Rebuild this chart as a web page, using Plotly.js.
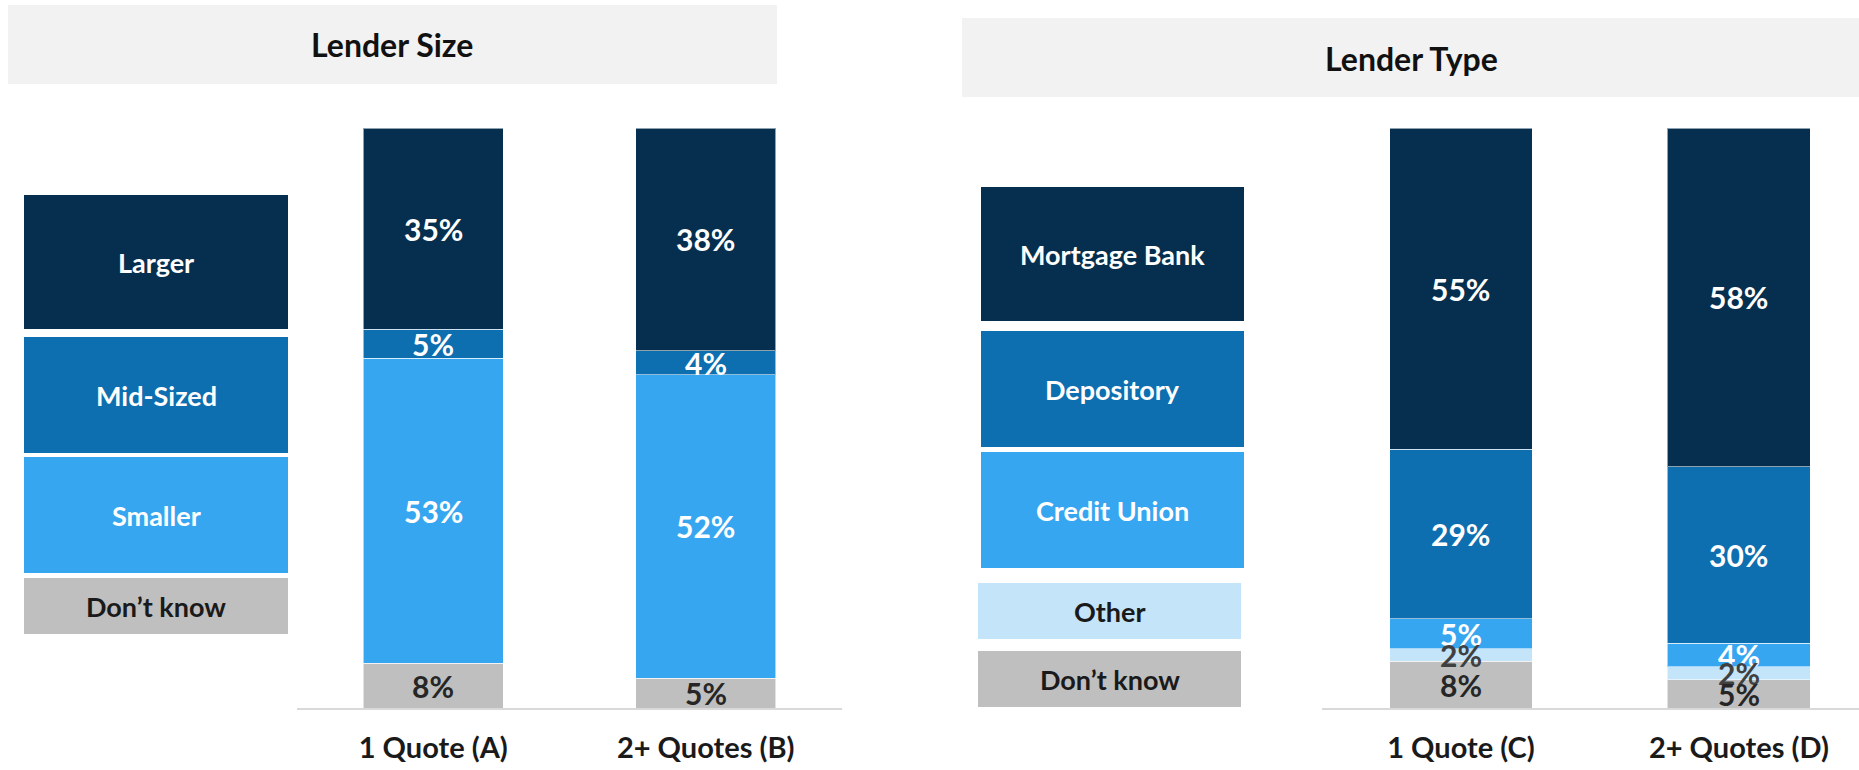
<!DOCTYPE html>
<html><head><meta charset="utf-8">
<script src="https://cdn.plot.ly/plotly-3.0.1.min.js"></script>
<style>html,body{margin:0;padding:0;background:#fff;} #chart{width:1859px;height:770px;}</style>
</head><body><div id="chart"></div>
<script>
// ---- Data ----
const sizeGroups = ['1 Quote (A)', '2+ Quotes (B)'];
const sizeCategories = ['Larger', 'Mid-Sized', 'Smaller', 'Don\u2019t know'];
const sizeLarger = [34.7, 38.4];
const sizeMid = [5.0, 4.1];
const sizeSmaller = [52.6, 52.4];
const sizeDontKnow = [7.7, 5.1];

const typeGroups = ['1 Quote (C)', '2+ Quotes (D)'];
const typeCategories = ['Mortgage Bank', 'Depository', 'Credit Union', 'Other', 'Don\u2019t know'];
const typeMortgage = [55.4, 58.4];
const typeDepository = [29.2, 30.4];
const typeCreditUnion = [5.2, 4.1];
const typeOther = [2.1, 2.2];
const typeDontKnow = [8.1, 4.9];

const panelTitles = ['Lender Size', 'Lender Type'];

// ---- Styles ----
const W = 1859, H = 770;
const FONT = 'Lato, "Source Sans Pro", "Noto Sans", sans-serif';
const C_NAVY = '#062F4F', C_MID = '#0D6EB0', C_LIGHT = '#37A6F1', C_PALE = '#C4E4F9', C_GRAY = '#BFBFBF';
const TXT_DARK = '#1A1A1A';
const px = v => v / W;
const py = v => 1 - v / H;

const traces = [];
const shapes = [], annotations = [];
const valueLabels = [];

// stacks listed bottom -> top
function addStack(groups, stack, xa, ya) {
  const bases = groups.map(() => 0);
  const labels = [];
  stack.forEach(s => {
    traces.push({
      type: 'bar', name: s.name, x: groups, y: s.vals, xaxis: xa, yaxis: ya,
      width: 0.514,
      marker: {color: s.color, line: {color: 'rgba(255,255,255,0.55)', width: 1}},
      textposition: 'none', hoverinfo: 'x+y+name', showlegend: false
    });
    s.vals.forEach((v, i) => {
      labels.push({xref: xa, yref: ya, x: groups[i], y: bases[i] + v / 2,
        text: Math.round(v) + '%', showarrow: false, xanchor: 'center', yanchor: 'middle',
        font: {family: FONT, size: 30, weight: 700, color: s.textColor}});
      bases[i] += v;
    });
  });
  // top segments' labels first, so lower labels sit on top where they overlap
  labels.reverse().forEach(l => valueLabels.push(l));
}

addStack(sizeGroups, [
  {name: sizeCategories[3], vals: sizeDontKnow, color: C_GRAY, textColor: '#262626'},
  {name: sizeCategories[2], vals: sizeSmaller, color: C_LIGHT, textColor: '#FFFFFF'},
  {name: sizeCategories[1], vals: sizeMid, color: C_MID, textColor: '#FFFFFF'},
  {name: sizeCategories[0], vals: sizeLarger, color: C_NAVY, textColor: '#FFFFFF'}
], 'x', 'y');
addStack(typeGroups, [
  {name: typeCategories[4], vals: typeDontKnow, color: C_GRAY, textColor: '#262626'},
  {name: typeCategories[3], vals: typeOther, color: C_PALE, textColor: '#404040'},
  {name: typeCategories[2], vals: typeCreditUnion, color: C_LIGHT, textColor: '#FFFFFF'},
  {name: typeCategories[1], vals: typeDepository, color: C_MID, textColor: '#FFFFFF'},
  {name: typeCategories[0], vals: typeMortgage, color: C_NAVY, textColor: '#FFFFFF'}
], 'x2', 'y2');

// ---- Legend boxes & panel title boxes (layout only) ----
function box(x0, x1, y0, y1, fill) {
  shapes.push({type: 'rect', xref: 'paper', yref: 'paper', x0: px(x0), x1: px(x1), y0: py(y1), y1: py(y0),
    fillcolor: fill, line: {width: 0}, layer: 'below'});
}
function label(text, cx, cy, size, color) {
  annotations.push({xref: 'paper', yref: 'paper', x: px(cx), y: py(cy), xanchor: 'center', yanchor: 'middle',
    text: text, showarrow: false, font: {family: FONT, size: size, weight: 700, color: color}});
}
box(8, 777, 5, 84, '#F2F2F2');   label(panelTitles[0], 392, 45, 32, '#111111');
box(962, 1859, 18, 97, '#F2F2F2'); label(panelTitles[1], 1411, 58, 32, '#111111');

const leftLegend = [[24, 288, 195, 329], [24, 288, 337, 453], [24, 288, 457, 573], [24, 288, 578, 634]];
const leftColors = [C_NAVY, C_MID, C_LIGHT, C_GRAY];
const leftText = ['#FFFFFF', '#FFFFFF', '#FFFFFF', TXT_DARK];
sizeCategories.forEach((c, i) => {
  const b = leftLegend[i];
  box(b[0], b[1], b[2], b[3], leftColors[i]);
  label(c, (b[0] + b[1]) / 2, (b[2] + b[3]) / 2, 27, leftText[i]);
});
const rightLegend = [[981, 1244, 187, 321], [981, 1244, 331, 447], [981, 1244, 452, 568], [978, 1241, 583, 639], [978, 1241, 651, 707]];
const rightColors = [C_NAVY, C_MID, C_LIGHT, C_PALE, C_GRAY];
const rightText = ['#FFFFFF', '#FFFFFF', '#FFFFFF', TXT_DARK, TXT_DARK];
typeCategories.forEach((c, i) => {
  const b = rightLegend[i];
  box(b[0], b[1], b[2], b[3], rightColors[i]);
  label(c, (b[0] + b[1]) / 2, (b[2] + b[3]) / 2, 27, rightText[i]);
});

const yDomain = [py(708), py(128)];
const xCommon = {
  type: 'category', showline: true, linecolor: '#D9D9D9', linewidth: 2,
  showgrid: false, zeroline: false, ticks: '', ticklabelstandoff: 13,
  tickfont: {family: FONT, size: 29, weight: 700, color: TXT_DARK}, fixedrange: true
};
const yCommon = {range: [0, 100], domain: yDomain, visible: false, showgrid: false, zeroline: false, fixedrange: true};

const layout = {
  width: W, height: H, margin: {l: 0, r: 0, t: 0, b: 0},
  paper_bgcolor: '#FFFFFF', plot_bgcolor: 'rgba(0,0,0,0)',
  barmode: 'stack', showlegend: false,
  font: {family: FONT},
  xaxis: Object.assign({}, xCommon, {domain: [px(297), px(842)], range: [-0.5, 1.5], anchor: 'y'}),
  yaxis: Object.assign({}, yCommon, {anchor: 'x'}),
  xaxis2: Object.assign({}, xCommon, {domain: [px(1322), 1], range: [-0.5, 1.432], anchor: 'y2'}),
  yaxis2: Object.assign({}, yCommon, {anchor: 'x2'}),
  shapes: shapes, annotations: annotations.concat(valueLabels)
};

Plotly.newPlot('chart', traces, layout, {displayModeBar: false, staticPlot: true});
</script>
</body></html>
